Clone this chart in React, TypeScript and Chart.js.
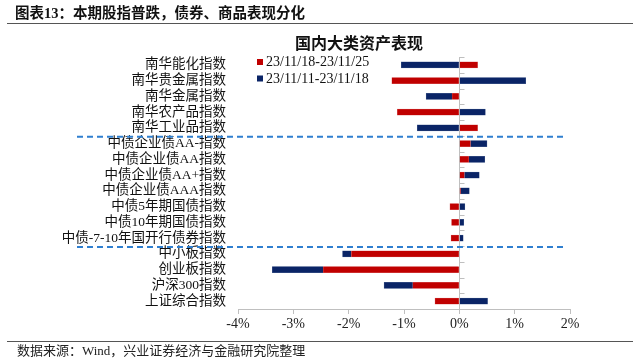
import React, { useEffect, useRef } from "react";
import { Chart, registerables } from "chart.js";

Chart.register(...registerables);

const categories = [
  "南华能化指数",
  "南华贵金属指数",
  "南华金属指数",
  "南华农产品指数",
  "南华工业品指数",
  "中债企业债AA-指数",
  "中债企业债AA指数",
  "中债企业债AA+指数",
  "中债企业债AAA指数",
  "中债5年期国债指数",
  "中债10年期国债指数",
  "中债-7-10年国开行债券指数",
  "中小板指数",
  "创业板指数",
  "沪深300指数",
  "上证综合指数",
];

const seriesLabels = ["23/11/18-23/11/25", "23/11/11-23/11/18"];

const weekRecent = [0.33, -1.22, -0.13, -1.12, 0.33, 0.2, 0.17, 0.09, 0.02, -0.17, -0.14, -0.15, -1.95, -2.46, -0.84, -0.44];
const weekPrior = [-1.05, 1.2, -0.47, 0.47, -0.76, 0.3, 0.29, 0.27, 0.16, 0.1, 0.08, 0.07, -0.16, -0.92, -0.52, 0.51];

const xTicks = [-4, -3, -2, -1, 0, 1, 2];

const headerTitle = "图表13：本期股指普跌，债券、商品表现分化";
const chartTitle = "国内大类资产表现";
const sourceText = "数据来源：Wind，兴业证券经济与金融研究院整理";
const groupBreaks = [4.5, 11.5];

const FONT = "'Liberation Serif', 'Noto Sans CJK SC', serif";

const decorPlugin = {
  id: "decor",
  afterDraw(chart: any) {
    const ctx = chart.ctx;
    const xs = chart.scales.x;
    const ys = chart.scales.y;
    ctx.save();
    // header
    ctx.fillStyle = "#111";
    ctx.font = `bold 14.5px ${FONT}`;
    ctx.textBaseline = "middle";
    ctx.textAlign = "left";
    ctx.fillText(headerTitle, 15, 14);
    ctx.strokeStyle = "#555";
    ctx.lineWidth = 1;
    ctx.beginPath();
    ctx.moveTo(7, 23.5);
    ctx.lineTo(633, 23.5);
    ctx.stroke();
    // footer
    ctx.beginPath();
    ctx.moveTo(7, 341.5);
    ctx.lineTo(633, 341.5);
    ctx.stroke();
    ctx.font = `13px ${FONT}`;
    ctx.fillStyle = "#222";
    ctx.fillText(sourceText, 17, 352);
    // chart title
    ctx.font = `bold 16px ${FONT}`;
    ctx.fillStyle = "#111";
    ctx.textAlign = "center";
    ctx.fillText(chartTitle, 359, 45);
    // legend
    ctx.textAlign = "left";
    ctx.font = `14px ${FONT}`;
    chart.data.datasets.forEach((ds: any, i: number) => {
      const cy = 62 + i * 16.5;
      ctx.fillStyle = ds.backgroundColor;
      ctx.fillRect(257, cy - 3, 6, 6);
      ctx.fillStyle = "#111";
      ctx.fillText(ds.label, 266, cy + 0.5);
    });
    // zero axis tick marks
    const x0 = Math.round(xs.getPixelForValue(0)) + 0.5;
    ctx.strokeStyle = "#bfbfbf";
    ctx.lineWidth = 1;
    for (let i = 0; i <= categories.length; i++) {
      const yy = Math.round(ys.getPixelForValue(i - 0.5)) + 0.5;
      ctx.beginPath();
      ctx.moveTo(x0, yy);
      ctx.lineTo(x0 + 5, yy);
      ctx.stroke();
    }
    // dashed group separators
    ctx.strokeStyle = "#2f7fd0";
    ctx.lineWidth = 2;
    ctx.setLineDash([6, 4]);
    groupBreaks.forEach((b) => {
      const yy = ys.getPixelForValue(b) + 1;
      ctx.beginPath();
      ctx.moveTo(77, yy);
      ctx.lineTo(564, yy);
      ctx.stroke();
    });
    ctx.restore();
  },
};

export default function App() {
  const ref = useRef<HTMLCanvasElement | null>(null);
  useEffect(() => {
    if (!ref.current) return;
    const chart = new Chart(ref.current, {
      type: "bar",
      data: {
        labels: categories,
        datasets: [
          {
            label: seriesLabels[0],
            data: weekRecent,
            backgroundColor: "#C00000",
            borderColor: "#d65a5a",
            borderWidth: 0.5,
            barThickness: 6,
          },
          {
            label: seriesLabels[1],
            data: weekPrior,
            backgroundColor: "#0A2466",
            borderColor: "#4a6090",
            borderWidth: 0.5,
            barThickness: 6,
          },
        ],
      },
      options: {
        indexAxis: "y",
        responsive: false,
        animation: false,
        layout: { padding: { left: 0, right: 70, top: 57, bottom: 23 } },
        plugins: {
          legend: { display: false },
          tooltip: { enabled: false },
          title: { display: false },
        },
        scales: {
          x: {
            type: "linear",
            stacked: true,
            min: -4,
            max: 2,
            afterBuildTicks: (scale: any) => {
              scale.ticks = xTicks.map((v) => ({ value: v }));
            },
            afterFit: (scale: any) => {
              scale.height = 30;
            },
            ticks: {
              callback: (v: any) => `${v}%`,
              font: { family: FONT, size: 14 },
              color: "#222",
              padding: 2,
            },
            grid: {
              drawOnChartArea: true,
              drawTicks: true,
              tickLength: 5,
              tickColor: "#bfbfbf",
              color: (c: any) => (c.tick && c.tick.value === 0 ? "#bfbfbf" : "rgba(0,0,0,0)"),
            },
            border: { display: true, color: "#bfbfbf" },
          },
          y: {
            type: "category",
            stacked: true,
            afterFit: (scale: any) => {
              scale.width = 238;
            },
            ticks: {
              font: { family: FONT, size: 13.5 },
              color: "#111",
              padding: 12,
              autoSkip: false,
            },
            grid: { display: false, drawTicks: false },
            border: { display: false },
          },
        },
      },
      plugins: [decorPlugin],
    } as any);
    return () => chart.destroy();
  }, []);
  return (
    <div style={{ position: "absolute", left: 0, top: 0, width: 640, height: 362, background: "#fff" }}>
      <canvas ref={ref} width={640} height={362} style={{ display: "block" }} />
    </div>
  );
}
